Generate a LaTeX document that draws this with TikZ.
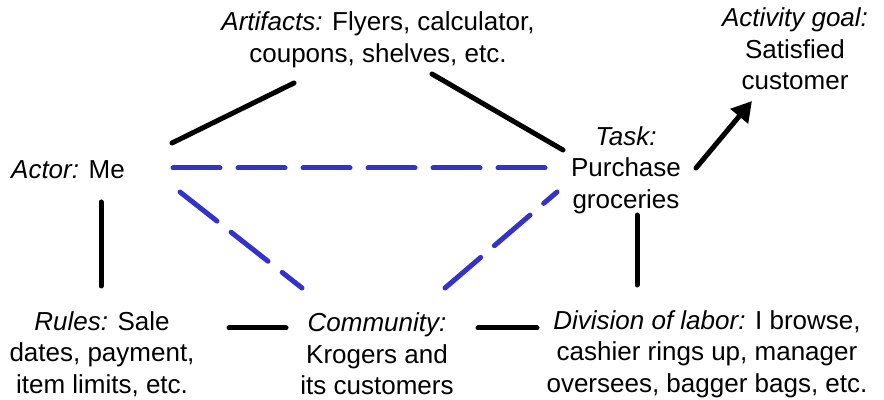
\documentclass[tikz,border=0pt]{standalone}
\usepackage{fontspec}
\setmainfont{Liberation Sans}
\usetikzlibrary{arrows.meta}
\definecolor{atBlue}{RGB}{51,51,204}
\begin{document}
\begin{tikzpicture}[x=0.5pt,y=-0.5pt]
\tikzset{
    atText/.style={align=center,inner sep=0pt,font=\fontsize{13}{15.75}\selectfont},
    atLink/.style={line width=2.5pt,line cap=round,draw=black},
    atMedi/.style={line width=2.5pt,line cap=round,draw=atBlue,dash pattern=on 23.5pt off 9pt},
}
\useasboundingbox (0,0) rectangle (884,400);

\node[atText] (artifacts) at (378,40) {\textit{Artifacts:} Flyers, calculator,\\coupons, shelves, etc.};
\node[atText] (goal) at (795,49) {\textit{Activity goal:}\\Satisfied\\customer};
\node[atText] (actor) at (68,170) {\textit{Actor:} Me};
\node[atText] (task) at (626,170) {\textit{Task:}\\Purchase\\groceries};
\node[atText] (rules) at (102,354) {\textit{Rules:} Sale\\dates, payment,\\item limits, etc.};
\node[atText] (community) at (377,354) {\textit{Community:}\\Krogers and\\its customers};
\node[atText] (division) at (707,354) {\textit{Division of labor:} I browse,\\cashier rings up, manager\\oversees, bagger bags, etc.};

% end points of the links
\foreach \n/\x/\y in {
    artL/172/143, artLt/294/83, artRt/432/74, artR/563/150,
    medA/173/168, medB/550/168,
    medC/180/192, medD/302/288, medE/445/288, medF/557/192,
    rulA/101/202, rulB/101/286, divA/637/215, divB/637/285,
    comA/229/328, comB/286/328, comC/478/328, comD/537/328,
    goalA/696/168, goalB/752/101
} {
    \coordinate (\n) at (\x,\y);
}

\draw[atLink] (artL) -- (artLt);
\draw[atLink] (artRt) -- (artR);
\draw[atMedi] (medA) -- (medB);
\draw[atMedi] (medC) -- (medD);
\draw[atMedi] (medE) -- (medF);
\draw[atLink] (rulA) -- (rulB);
\draw[atLink] (divA) -- (divB);
\draw[atLink] (comA) -- (comB);
\draw[atLink] (comC) -- (comD);
\draw[atLink,-{Triangle[length=10pt,width=11pt]}] (goalA) -- (goalB);
\end{tikzpicture}
\end{document}
